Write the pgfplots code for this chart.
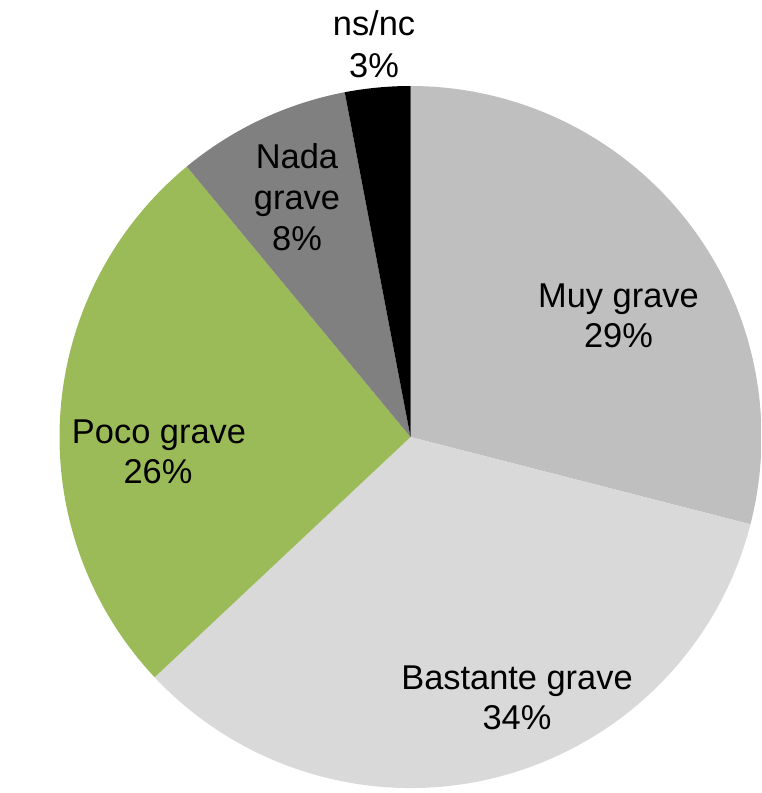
\documentclass[border=0pt]{standalone}
\usepackage{pgfplots}
\usepackage{pgfplotstable}
\pgfplotsset{compat=1.18}
\usepackage{fontspec}
\setmainfont{Liberation Sans}

\definecolor{muy}{HTML}{BFBFBF}
\definecolor{bastante}{HTML}{D9D9D9}
\definecolor{poco}{HTML}{9BBB59}
\definecolor{nada}{HTML}{808080}
\definecolor{nsnc}{HTML}{000000}

% share of answers, clockwise from 12 o'clock
\pgfplotstableread{
value color
29 muy
34 bastante
26 poco
8 nada
3 nsnc
}\piedata

\tikzset{lbl/.style={anchor=base, inner sep=0pt, text=black,
  font=\fontsize{17.2pt}{20pt}\selectfont}}

\begin{document}
\begin{tikzpicture}
\begin{axis}[
  scale only axis,
  width=380.5pt, height=396.5pt,
  xmin=0, xmax=761, ymin=0, ymax=793,
  y dir=reverse,
  hide axis,
  clip=false,
]
\pgfplotsextra{
  \path (axis cs:0,0) rectangle (axis cs:761,793);
  \begin{scope}
    \clip (axis cs:0,0) rectangle (axis cs:761,793);
    \pgfplotstablegetrowsof{\piedata}
    \pgfmathtruncatemacro{\nlast}{\pgfplotsretval-1}
    \gdef\cum{0}
    \foreach \i in {0,...,\nlast} {
      \pgfplotstablegetelem{\i}{value}\of\piedata
      \edef\val{\pgfplotsretval}
      \pgfplotstablegetelem{\i}{color}\of\piedata
      \edef\slicecolor{\pgfplotsretval}
      \pgfmathsetmacro{\aa}{90-3.6*\cum}
      \pgfmathsetmacro{\ab}{90-3.6*(\cum+\val)}
      \pgfmathsetmacro{\newcum}{\cum+\val}
      \global\let\cum\newcum
      \fill[fill=\slicecolor] (axis cs:410.5,437) -- ++(\aa:175.5pt)
        arc[start angle=\aa, end angle=\ab, radius=175.5pt] -- cycle;
    }
  \end{scope}
}
\node[lbl] at (axis cs:618.5,307.5) {Muy grave};
\node[lbl] at (axis cs:618.5,347) {29\%};
\node[lbl] at (axis cs:517,689) {Bastante grave};
\node[lbl] at (axis cs:517,729) {34\%};
\node[lbl] at (axis cs:159,443) {Poco grave};
\node[lbl] at (axis cs:158,483) {26\%};
\node[lbl] at (axis cs:297,168) {Nada};
\node[lbl] at (axis cs:297,209) {grave};
\node[lbl] at (axis cs:297,250) {8\%};
\node[lbl] at (axis cs:374,35) {ns/nc};
\node[lbl] at (axis cs:374,77) {3\%};
\end{axis}
\end{tikzpicture}
\end{document}
